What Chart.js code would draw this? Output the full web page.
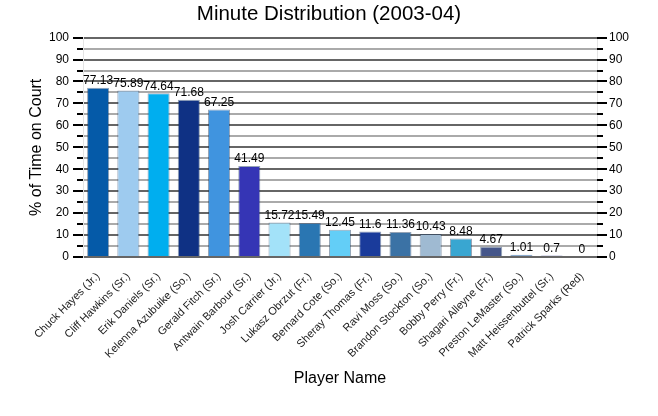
<!DOCTYPE html>
<html>
<head>
<meta charset="utf-8">
<script src="https://cdn.jsdelivr.net/npm/chart.js@4"></script>
<style>
  body { margin: 0; background: #fff; }
  canvas { display: block; }
</style>
</head>
<body>
<canvas id="chart" width="658" height="416"></canvas>
<script>
const players = [
  'Chuck Hayes (Jr.)', 'Cliff Hawkins (Sr.)', 'Erik Daniels (Sr.)', 'Kelenna Azubuike (So.)',
  'Gerald Fitch (Sr.)', 'Antwain Barbour (Sr.)', 'Josh Carrier (Jr.)', 'Lukasz Obrzut (Fr.)',
  'Bernard Cote (So.)', 'Sheray Thomas (Fr.)', 'Ravi Moss (So.)', 'Brandon Stockton (So.)',
  'Bobby Perry (Fr.)', 'Shagari Alleyne (Fr.)', 'Preston LeMaster (So.)', 'Matt Heissenbuttel (Sr.)',
  'Patrick Sparks (Red)'
];
const pctOnCourt = [77.13, 75.89, 74.64, 71.68, 67.25, 41.49, 15.72, 15.49, 12.45, 11.6, 11.36, 10.43, 8.48, 4.67, 1.01, 0.7, 0];
const barColors = [
  '#055aa8', '#9ecbef', '#00aeef', '#0f3184', '#4094df', '#3535b5', '#a3e2f9', '#2a76b2',
  '#63cef7', '#1a3b9b', '#3b72a5', '#9fbad2', '#39a6d1', '#45568a', '#4a86c4', '#4848a8', '#3c5fa8'
];
const yTicks = [0, 10, 20, 30, 40, 50, 60, 70, 80, 90, 100];

const FONT = '"Liberation Sans", Arial, sans-serif';

// value labels over each bar
const valueLabels = {
  id: 'valueLabels',
  afterDatasetsDraw(chart) {
    const ctx = chart.ctx;
    const meta = chart.getDatasetMeta(0);
    ctx.save();
    ctx.font = '12px ' + FONT;
    ctx.fillStyle = '#000';
    ctx.textAlign = 'center';
    ctx.textBaseline = 'bottom';
    meta.data.forEach((bar, i) => {
      ctx.fillText(String(pctOnCourt[i]), bar.x, bar.y - 1);
    });
    ctx.restore();
  }
};

// major / minor tick marks on both value axes
const tickMarks = {
  id: 'tickMarks',
  afterDraw(chart) {
    const ctx = chart.ctx;
    const area = chart.chartArea;
    ctx.save();
    ctx.strokeStyle = '#000';
    ctx.lineWidth = 2;
    ['y', 'y2'].forEach(id => {
      const s = chart.scales[id];
      s.ticks.forEach(t => {
        const py = Math.round(s.getPixelForValue(t.value));
        const len = t.value % 10 === 0 ? 10 : 6;
        ctx.beginPath();
        if (id === 'y') {
          ctx.moveTo(area.left - len, py);
          ctx.lineTo(area.left, py);
        } else {
          ctx.moveTo(area.right, py);
          ctx.lineTo(area.right + len, py);
        }
        ctx.stroke();
      });
    });
    ctx.restore();
  }
};

const tickCallback = v => (yTicks.includes(v) ? String(v) : '');

new Chart(document.getElementById('chart'), {
  type: 'bar',
  data: {
    labels: players,
    datasets: [{
      data: pctOnCourt,
      backgroundColor: barColors,
      borderColor: 'rgba(20, 50, 90, 0.45)',
      borderWidth: 1,
      barPercentage: 0.73,
      categoryPercentage: 1
    }]
  },
  options: {
    responsive: false,
    animation: false,
    layout: { padding: { top: 0, left: 0, right: 0, bottom: 0 } },
    plugins: {
      legend: { display: false },
      tooltip: { enabled: false },
      title: {
        display: true,
        text: 'Minute Distribution (2003-04)',
        color: '#000',
        font: { family: FONT, size: 20.5, weight: 'normal' },
        padding: { top: 2, bottom: 11 }
      }
    },
    scales: {
      x: {
        grid: { display: false, drawTicks: false },
        border: { display: false },
        ticks: {
          color: '#222',
          font: { family: FONT, size: 11 },
          maxRotation: 45,
          minRotation: 45,
          autoSkip: false,
          padding: 13
        },
        title: {
          display: true,
          text: 'Player Name',
          color: '#000',
          font: { family: FONT, size: 16 },
          padding: { top: 0, bottom: 28 }
        },
        afterFit: s => { s.height = 159; }
      },
      y: {
        min: 0,
        max: 100,
        ticks: {
          stepSize: 5,
          autoSkip: false,
          callback: tickCallback,
          color: '#000',
          font: { family: FONT, size: 12 },
          padding: 4
        },
        grid: {
          color: c => (c.tick.value % 10 === 0 ? '#666' : '#aaa'),
          lineWidth: 2,
          drawTicks: true,
          tickLength: 10,
          tickColor: 'transparent'
        },
        border: { display: true, color: '#e4e4e4', width: 1 },
        title: {
          display: true,
          text: '% of Time on Court',
          color: '#000',
          font: { family: FONT, size: 16 },
          padding: { top: 27, bottom: 0 }
        },
        afterFit: s => { s.width = 83; }
      },
      y2: {
        position: 'right',
        min: 0,
        max: 100,
        ticks: {
          stepSize: 5,
          autoSkip: false,
          callback: tickCallback,
          color: '#000',
          font: { family: FONT, size: 12 },
          padding: 2
        },
        grid: { drawOnChartArea: false, drawTicks: true, tickLength: 10, tickColor: 'transparent' },
        border: { display: true, color: '#e4e4e4', width: 1 },
        afterFit: s => { s.width = 61; }
      }
    }
  },
  plugins: [valueLabels, tickMarks]
});
</script>
</body>
</html>
